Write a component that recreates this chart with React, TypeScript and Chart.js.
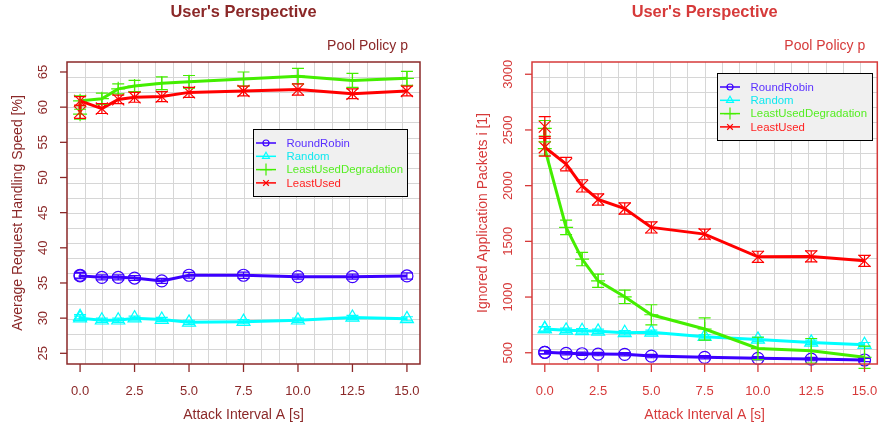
import React, { useEffect, useRef } from 'react';
import { Chart, registerables } from 'chart.js';

Chart.register(...registerables);

// ---------- data ----------
const ATTACK_INTERVALS = [0, 0, 1, 1.75, 2.5, 3.75, 5, 7.5, 10, 12.5, 15];
const SERIES_NAMES = ['RoundRobin', 'Random', 'LeastUsedDegradation', 'LeastUsed'];
const X_TICKS = [0, 2.5, 5, 7.5, 10, 12.5, 15];

// left panel: Average Request Handling Speed [%]
const SPEED_Y_TICKS = [25, 30, 35, 40, 45, 50, 55, 60, 65];
const SPEED_ROUNDROBIN = [36.1, 36.0, 35.8, 35.8, 35.7, 35.3, 36.1, 36.1, 35.9, 35.9, 36.0];
const SPEED_ROUNDROBIN_ERR = [0.4, 0.4, 0.35, 0.35, 0.35, 0.35, 0.4, 0.45, 0.35, 0.35, 0.45];
const SPEED_RANDOM = [30.2, 30.0, 29.7, 29.7, 30.0, 29.8, 29.4, 29.5, 29.7, 30.1, 29.9];
const SPEED_RANDOM_ERR = [0.3, 0.3, 0.3, 0.3, 0.3, 0.3, 0.3, 0.3, 0.3, 0.3, 0.3];
const SPEED_LUD = [59.0, 60.9, 61.2, 62.6, 63.0, 63.4, 63.6, 64.0, 64.4, 63.8, 64.1];
const SPEED_LUD_ERR = [0.7, 0.7, 0.8, 0.7, 0.8, 0.9, 0.9, 1.0, 1.1, 1.0, 1.0];
const SPEED_LEASTUSED = [59.3, 60.9, 59.8, 61.1, 61.4, 61.5, 62.1, 62.3, 62.5, 61.9, 62.3];
const SPEED_LEASTUSED_ERR = [0.9, 0.6, 0.7, 0.6, 0.7, 0.7, 0.7, 0.7, 0.8, 0.7, 0.7];

// right panel: Ignored Application Packets i [1]
const IGNORED_Y_TICKS = [500, 1000, 1500, 2000, 2500, 3000];
const IGNORED_ROUNDROBIN = [504, 504, 495, 491, 488, 486, 470, 459, 450, 443, 435];
const IGNORED_ROUNDROBIN_ERR = [15, 15, 15, 15, 15, 15, 15, 15, 15, 15, 15];
const IGNORED_RANDOM = [715, 713, 701, 697, 692, 679, 683, 644, 620, 593, 572];
const IGNORED_RANDOM_ERR = [20, 20, 20, 20, 20, 20, 20, 20, 20, 20, 20];
const IGNORED_LUD = [2515, 2333, 1625, 1341, 1146, 1002, 841, 713, 539, 518, 459];
const IGNORED_LUD_ERR = [70, 60, 65, 60, 60, 60, 90, 100, 100, 110, 100];
const IGNORED_LEASTUSED = [2530, 2345, 2193, 1998, 1876, 1795, 1625, 1565, 1361, 1365, 1325];
const IGNORED_LEASTUSED_ERR = [90, 80, 60, 55, 50, 50, 50, 45, 50, 50, 50];

// ---------- styles ----------
const LINE_COLORS = ['#3c00ff', '#00ffff', '#44ee00', '#ff0000'];
const TEXT_COLORS = ['#5a30ff', '#10e8f0', '#55ee22', '#ff2222'];
const POINT_STYLES = ['circle', 'triangle', 'cross', 'crossRot'];
const POINT_RADII = [6, 7.5, 7, 8.5];
const LEGEND_RADII = [3, 4, 6, 4];
const FONT = '"Liberation Sans", Arial, Helvetica, sans-serif';

type PanelCfg = {
  series: number[][];
  errors: number[][];
  yTicks: number[];
  yMin: number;
  yMax: number;
  yTitle: string;
  color: string;
  padding: { left: number; right: number; top: number; bottom: number };
  legend: { x: number; y: number; w: number; h: number };
};

function drawMarker(ctx: CanvasRenderingContext2D, style: string, x: number, y: number, r: number) {
  ctx.beginPath();
  if (style === 'circle') {
    ctx.arc(x, y, r, 0, Math.PI * 2);
  } else if (style === 'triangle') {
    for (let k = 0; k < 3; k++) {
      const a = -Math.PI / 2 + (k * 2 * Math.PI) / 3;
      const px = x + Math.cos(a) * r;
      const py = y + Math.sin(a) * r;
      if (k === 0) ctx.moveTo(px, py);
      else ctx.lineTo(px, py);
    }
    ctx.closePath();
  } else if (style === 'cross') {
    ctx.moveTo(x - r, y);
    ctx.lineTo(x + r, y);
    ctx.moveTo(x, y - r);
    ctx.lineTo(x, y + r);
  } else {
    const o = r * 0.707;
    ctx.moveTo(x - o, y - o);
    ctx.lineTo(x + o, y + o);
    ctx.moveTo(x - o, y + o);
    ctx.lineTo(x + o, y - o);
  }
  ctx.stroke();
}

const decorPlugin = {
  id: 'decor',
  beforeDatasetsDraw(chart: any, _args: any, opts: any) {
    const { ctx, chartArea: a } = chart;
    ctx.save();
    ctx.strokeStyle = '#d6d6d6';
    ctx.lineWidth = 1;
    const w = a.right - a.left;
    const h = a.bottom - a.top;
    for (let i = 1; i < 20; i++) {
      const x = Math.round(a.left + (w * i) / 20) + 0.5;
      ctx.beginPath();
      ctx.moveTo(x, a.top);
      ctx.lineTo(x, a.bottom);
      ctx.stroke();
      const y = Math.round(a.top + (h * i) / 20) + 0.5;
      ctx.beginPath();
      ctx.moveTo(a.left, y);
      ctx.lineTo(a.right, y);
      ctx.stroke();
    }
    ctx.restore();
  },
  afterDatasetsDraw(chart: any, _args: any, opts: any) {
    const { ctx, chartArea: a, scales } = chart;
    const xs = scales.x;
    const ys = scales.y;
    const color = opts.color;
    ctx.save();

    // error bars
    chart.data.datasets.forEach((ds: any, i: number) => {
      const meta = chart.getDatasetMeta(i);
      ctx.strokeStyle = ds.borderColor;
      ctx.lineWidth = 1.2;
      meta.data.forEach((pt: any, j: number) => {
        const v = ds.data[j].y;
        const e = ds.errors[j];
        const yt = ys.getPixelForValue(v + e);
        const yb = ys.getPixelForValue(v - e);
        ctx.beginPath();
        ctx.moveTo(pt.x, yt);
        ctx.lineTo(pt.x, yb);
        ctx.moveTo(pt.x - 6, yt);
        ctx.lineTo(pt.x + 6, yt);
        ctx.moveTo(pt.x - 6, yb);
        ctx.lineTo(pt.x + 6, yb);
        ctx.stroke();
      });
    });

    // box
    ctx.strokeStyle = color;
    ctx.lineWidth = 1.5;
    ctx.strokeRect(a.left, a.top, a.right - a.left, a.bottom - a.top);

    // x axis ticks
    ctx.fillStyle = color;
    ctx.lineWidth = 1.3;
    ctx.font = `13px ${FONT}`;
    ctx.textAlign = 'center';
    ctx.textBaseline = 'middle';
    X_TICKS.forEach((t) => {
      const px = xs.getPixelForValue(t);
      ctx.beginPath();
      ctx.moveTo(px, a.bottom);
      ctx.lineTo(px, a.bottom + 8);
      ctx.stroke();
      ctx.fillText(t.toFixed(1), px, a.bottom + 27);
    });
    // y axis ticks
    opts.yTicks.forEach((t: number) => {
      const py = ys.getPixelForValue(t);
      ctx.beginPath();
      ctx.moveTo(a.left - 7, py);
      ctx.lineTo(a.left, py);
      ctx.stroke();
      ctx.save();
      ctx.translate(a.left - 24, py);
      ctx.rotate(-Math.PI / 2);
      ctx.fillText(String(t), 0, 0);
      ctx.restore();
    });

    const cx = (a.left + a.right) / 2;
    const cy = (a.top + a.bottom) / 2;
    // axis titles
    ctx.font = `14px ${FONT}`;
    ctx.fillText('Attack Interval A [s]', cx, a.bottom + 51);
    ctx.save();
    ctx.translate(a.left - 49, cy);
    ctx.rotate(-Math.PI / 2);
    ctx.fillText(opts.yTitle, 0, 0);
    ctx.restore();
    // pool policy
    ctx.textAlign = 'right';
    ctx.fillText('Pool Policy p', a.right - 12, 46);
    // title
    ctx.textAlign = 'center';
    ctx.font = `bold 16.4px ${FONT}`;
    ctx.fillText("User's Perspective", cx, 12);

    // legend
    const L = opts.legend;
    ctx.fillStyle = '#f0f0f0';
    ctx.fillRect(L.x, L.y, L.w, L.h);
    ctx.strokeStyle = '#000000';
    ctx.lineWidth = 1;
    ctx.strokeRect(L.x + 0.5, L.y + 0.5, L.w, L.h);
    ctx.font = `11.4px ${FONT}`;
    ctx.textAlign = 'left';
    SERIES_NAMES.forEach((name, i) => {
      const ry = L.y + 14 + i * 13.3;
      ctx.strokeStyle = LINE_COLORS[i];
      ctx.lineWidth = 1.5;
      ctx.beginPath();
      ctx.moveTo(L.x + 3, ry);
      ctx.lineTo(L.x + 23, ry);
      ctx.stroke();
      ctx.lineWidth = 1.2;
      drawMarker(ctx, POINT_STYLES[i], L.x + 13, ry, LEGEND_RADII[i]);
      ctx.fillStyle = TEXT_COLORS[i];
      ctx.fillText(name, L.x + 33.5, ry + 0.5);
    });
    ctx.restore();
  },
};

function makeConfig(p: PanelCfg): any {
  const datasets = SERIES_NAMES.map((name, i) => ({
    label: name,
    data: ATTACK_INTERVALS.map((x, j) => ({ x, y: p.series[i][j] })),
    errors: p.errors[i],
    borderColor: LINE_COLORS[i],
    backgroundColor: 'rgba(0,0,0,0)',
    borderWidth: 3,
    pointStyle: POINT_STYLES[i],
    pointRadius: POINT_RADII[i],
    pointBorderWidth: 1.2,
    pointBorderColor: LINE_COLORS[i],
    pointBackgroundColor: 'rgba(0,0,0,0)',
    tension: 0,
    fill: false,
    clip: false,
    order: 3 - i,
  }));
  return {
    type: 'line',
    data: { datasets },
    options: {
      animation: false,
      responsive: false,
      devicePixelRatio: 1,
      layout: { padding: p.padding },
      scales: {
        x: { type: 'linear', min: -0.6, max: 15.6, display: false },
        y: { type: 'linear', min: p.yMin, max: p.yMax, display: false },
      },
      plugins: {
        legend: { display: false },
        tooltip: { enabled: false },
        decor: {
          color: p.color,
          yTicks: p.yTicks,
          yTitle: p.yTitle,
          legend: p.legend,
        },
      },
    },
    plugins: [decorPlugin],
  };
}

const LEFT: PanelCfg = {
  series: [SPEED_ROUNDROBIN, SPEED_RANDOM, SPEED_LUD, SPEED_LEASTUSED],
  errors: [SPEED_ROUNDROBIN_ERR, SPEED_RANDOM_ERR, SPEED_LUD_ERR, SPEED_LEASTUSED_ERR],
  yTicks: SPEED_Y_TICKS,
  yMin: 23.48,
  yMax: 66.42,
  yTitle: 'Average Request Handling Speed [%]',
  color: '#8B2828',
  padding: { left: 67, right: 24, top: 62, bottom: 64 },
  legend: { x: 253, y: 129, w: 154, h: 67 },
};

const RIGHT: PanelCfg = {
  series: [IGNORED_ROUNDROBIN, IGNORED_RANDOM, IGNORED_LUD, IGNORED_LEASTUSED],
  errors: [IGNORED_ROUNDROBIN_ERR, IGNORED_RANDOM_ERR, IGNORED_LUD_ERR, IGNORED_LEASTUSED_ERR],
  yTicks: IGNORED_Y_TICKS,
  yMin: 399,
  yMax: 3110,
  yTitle: 'Ignored Application Packets i [1]',
  color: '#D63A3A',
  padding: { left: 88, right: 2, top: 62, bottom: 64 },
  legend: { x: 273, y: 73, w: 155, h: 67 },
};

function Panel({ cfg, left, width }: { cfg: PanelCfg; left: number; width: number }) {
  const ref = useRef<HTMLCanvasElement | null>(null);
  useEffect(() => {
    if (!ref.current) return;
    const chart = new Chart(ref.current, makeConfig(cfg));
    return () => chart.destroy();
  }, [cfg]);
  return (
    <canvas
      ref={ref}
      width={width}
      height={428}
      style={{ position: 'absolute', left, top: 0, width, height: 428 }}
    />
  );
}

export default function App() {
  return (
    <div style={{ position: 'absolute', left: 0, top: 0, width: 887, height: 428, background: '#ffffff' }}>
      <Panel cfg={LEFT} left={0} width={444} />
      <Panel cfg={RIGHT} left={444} width={443} />
    </div>
  );
}
